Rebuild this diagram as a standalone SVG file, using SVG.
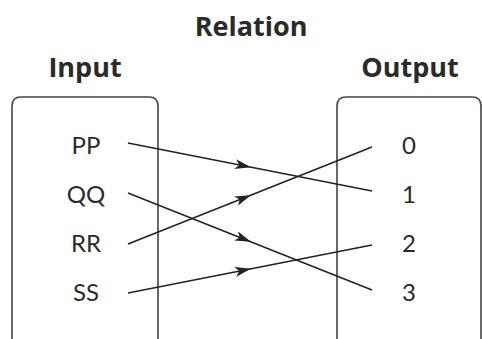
<svg xmlns="http://www.w3.org/2000/svg" width="482" height="339" viewBox="0 0 482 339">
  <style>
    .title { font-family: "Open Sans", Lato, sans-serif; font-weight: bold; font-size: 27px; fill: #2a2a2a; text-anchor: middle; }
    .label { font-family: Lato, "Open Sans", sans-serif; font-size: 24px; fill: #2a2a2a; text-anchor: middle; }
    .box { fill: none; stroke: #444; stroke-width: 1.6; }
    .link { fill: none; stroke: #222; stroke-width: 1.6; marker-mid: url(#arrow); }
  </style>
  <defs>
    <marker id="arrow" viewBox="0 0 16 10" refX="15" refY="5" markerWidth="16" markerHeight="10" markerUnits="userSpaceOnUse" orient="auto">
      <path d="M0,0 L16,5 L0,10 L4,5 Z" fill="#222"/>
    </marker>
  </defs>

  <rect width="482" height="339" fill="#fff"/>

  <text class="title" x="251" y="36">Relation</text>

  <g id="input">
    <text class="title" x="85" y="77">Input</text>
    <path class="box" d="M12,345 V106 Q12,97 21,97 H149 Q158,97 158,106 V345"/>
    <text class="label" x="86" y="154">PP</text>
    <text class="label" x="86" y="203">QQ</text>
    <text class="label" x="86" y="252">RR</text>
    <text class="label" x="86" y="301">SS</text>
  </g>

  <g id="output">
    <text class="title" x="410" y="77">Output</text>
    <path class="box" d="M337,345 V106 Q337,97 346,97 H472 Q481,97 481,106 V345"/>
    <text class="label" x="409" y="154">0</text>
    <text class="label" x="409" y="203">1</text>
    <text class="label" x="409" y="252">2</text>
    <text class="label" x="409" y="301">3</text>
  </g>

  <g id="connectors">
    <!-- PP -> 1 -->
    <polyline class="link" points="128,143 250,167 372,191"/>
    <!-- QQ -> 3 -->
    <polyline class="link" points="128,193 250,241.5 372,290"/>
    <!-- RR -> 0 -->
    <polyline class="link" points="128,244 250,195.5 372,147"/>
    <!-- SS -> 2 -->
    <polyline class="link" points="128,293 250,269 372,245"/>
  </g>
</svg>
